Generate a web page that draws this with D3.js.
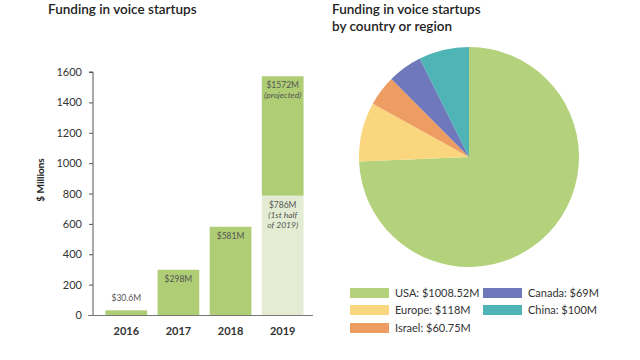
<!DOCTYPE html>
<html><head><meta charset="utf-8">
<script src="https://cdn.jsdelivr.net/npm/d3@7"></script>
<style>body{margin:0;background:#fff}svg{display:block}text{font-family:Lato,"Open Sans",sans-serif}</style>
</head><body><svg id="c" width="640" height="360"></svg>
<script>
const years = ["2016","2017","2018","2019"];
const actual = [30.6, 298, 581, 786];
const projectedExtra = [0, 0, 0, 786];
const barLabels = [["$30.6M"],["$298M"],["$581M"],["$786M","(1st half","of 2019)"]];
const projLabel = ["$1572M","(projected)"];
const yTicks = [0,200,400,600,800,1000,1200,1400,1600];

const regions = ["USA","Europe","Israel","Canada","China"];
const regionValues = [1008.52, 118, 60.75, 69, 100];
const regionLabels = ["USA: $1008.52M","Europe: $118M","Israel: $60.75M","Canada: $69M","China: $100M"];
const regionColors = ["#b3d27b","#fad67f","#ee9d62","#6e78ba","#4eb4b6"];

const svg = d3.select("#c");
const txt = "#333";

// Titles
svg.append("text").attr("x",48).attr("y",14).attr("font-size",13.5).attr("font-weight",600).attr("fill","#222").text("Funding in voice startups");
svg.append("text").attr("x",332).attr("y",14).attr("font-size",13.5).attr("font-weight",600).attr("fill","#222").text("Funding in voice startups");
svg.append("text").attr("x",332).attr("y",31).attr("font-size",13.5).attr("font-weight",600).attr("fill","#222").text("by country or region");

// Bar chart
const x = d3.scaleBand().domain(years).range([95,314]).paddingInner(0.2).paddingOuter(0.2);
const y = d3.scaleLinear().domain([0,1600]).range([315,72]);

const yAxis = svg.append("g").attr("transform","translate(93,0)")
  .call(d3.axisLeft(y).tickValues(yTicks).tickSize(4).tickPadding(7).tickFormat(d3.format("d")));
yAxis.select(".domain").attr("stroke","#555").attr("d","M-4,72H0V315");
yAxis.selectAll(".tick line").attr("stroke","#555");
yAxis.selectAll(".tick text").attr("font-size",11).attr("fill",txt).attr("font-family","Lato,sans-serif");

svg.append("text").attr("transform","translate(44,180) rotate(-90)").attr("text-anchor","middle")
  .attr("font-size",10).attr("font-weight",700).attr("fill","#222").text("$ Millions");

const stackData = years.map((yr,i)=>({year:yr, actual:actual[i], proj:projectedExtra[i]}));
const series = d3.stack().keys(["actual","proj"])(stackData);

svg.append("g").selectAll("rect").data(series[0]).join("rect")
  .attr("x",d=>x(d.data.year)).attr("width",x.bandwidth())
  .attr("y",d=>y(d[1])).attr("height",d=>y(d[0])-y(d[1]))
  .attr("fill",d=>d.data.year==="2019" ? "#e4edd3" : "#aecd74");
svg.append("g").selectAll("rect").data(series[1].filter(d=>d[1]>d[0])).join("rect")
  .attr("x",d=>x(d.data.year)).attr("width",x.bandwidth())
  .attr("y",d=>y(d[1])).attr("height",d=>y(d[0])-y(d[1]))
  .attr("fill","#aecd74");

// axis baseline
svg.append("line").attr("x1",88).attr("x2",313).attr("y1",315.5).attr("y2",315.5).attr("stroke","#777");

// year labels
svg.append("g").selectAll("text").data(years).join("text")
  .attr("x",d=>x(d)+x.bandwidth()/2).attr("y",335).attr("text-anchor","middle")
  .attr("font-size",11).attr("font-weight",700).attr("fill","#333").text(d=>d);

// bar labels
years.forEach((yr,i)=>{
  const cx = x(yr)+x.bandwidth()/2;
  const top = y(actual[i]);
  const lines = barLabels[i];
  const y0 = i===0 ? top-9 : top+12;
  lines.forEach((l,j)=>{
    svg.append("text").attr("x",cx).attr("y",y0+j*10).attr("text-anchor","middle")
      .attr("font-size",8.5).attr("fill","#555").attr("font-style",j>0?"italic":"normal").text(l);
  });
});
{
  const cx = x("2019")+x.bandwidth()/2;
  const top = y(actual[3]+projectedExtra[3]);
  projLabel.forEach((l,j)=>{
    svg.append("text").attr("x",cx).attr("y",top+12+j*10).attr("text-anchor","middle")
      .attr("font-size",8.5).attr("fill","#555").attr("font-style",j>0?"italic":"normal").text(l);
  });
}

// Pie
const pie = d3.pie().sort(null).value(d=>d)(regionValues);
const arc = d3.arc().innerRadius(0).outerRadius(110);
svg.append("g").attr("transform","translate(469,157)").selectAll("path").data(pie).join("path")
  .attr("d",arc).attr("fill",(d,i)=>regionColors[i]);

// Legend
const legPos = [[350,288],[350,305],[350,323],[483,288],[483,305]];
regions.forEach((r,i)=>{
  const [lx,ly] = legPos[i];
  svg.append("rect").attr("x",lx).attr("y",ly).attr("width",39).attr("height",10).attr("fill",regionColors[i]);
  svg.append("text").attr("x",lx+45).attr("y",ly+9).attr("font-size",11).attr("fill","#333").text(regionLabels[i]);
});
</script></body></html>
